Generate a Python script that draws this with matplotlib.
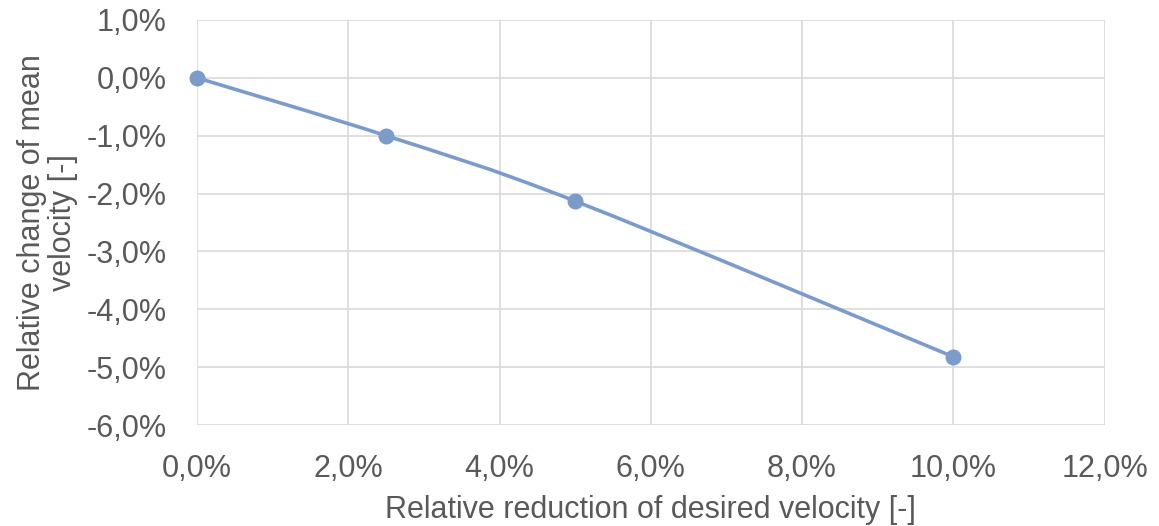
import matplotlib

matplotlib.use("Agg")
import matplotlib.pyplot as plt
from matplotlib.path import Path
from matplotlib.patches import PathPatch
from matplotlib.ticker import FuncFormatter

# Relative reduction of desired velocity vs. relative change of mean velocity (%)
reduction = [0.0, 2.5, 5.0, 10.0]
mean_change = [0.0, -1.0, -2.13, -4.82]

x_ticks = [0, 2, 4, 6, 8, 10, 12]
y_ticks = [1, 0, -1, -2, -3, -4, -5, -6]

LINE = "#7b9bcb"
TEXT = "#595959"
GRID = "#d9d9d9"
FS = 22


def smooth_path(xs, ys, tension=1 / 6):
    # Catmull-Rom style bezier segments, like a spreadsheet "smoothed line"
    verts = [(xs[0], ys[0])]
    codes = [Path.MOVETO]
    n = len(xs)
    for i in range(n - 1):
        x0, y0 = xs[max(i - 1, 0)], ys[max(i - 1, 0)]
        x1, y1 = xs[i], ys[i]
        x2, y2 = xs[i + 1], ys[i + 1]
        x3, y3 = xs[min(i + 2, n - 1)], ys[min(i + 2, n - 1)]
        c1 = (x1 + (x2 - x0) * tension, y1 + (y2 - y0) * tension)
        c2 = (x2 - (x3 - x1) * tension, y2 - (y3 - y1) * tension)
        verts += [c1, c2, (x2, y2)]
        codes += [Path.CURVE4] * 3
    return Path(verts, codes)


plt.rcParams["font.family"] = ["Liberation Sans", "DejaVu Sans"]

fig = plt.figure(figsize=(11.59, 5.26), dpi=100)
ax = fig.add_axes([0.170, 0.192, 0.783, 0.770])

ax.add_patch(PathPatch(smooth_path(reduction, mean_change), facecolor="none",
                       edgecolor=LINE, linewidth=2.6, zorder=3))
ax.plot(reduction, mean_change, linestyle="none", marker="o", markersize=10.5,
        color=LINE, zorder=4, clip_on=False)

ax.set_xlim(0, 12)
ax.set_ylim(-6, 1)
ax.set_xticks(x_ticks)
ax.set_yticks(y_ticks)
pct = FuncFormatter(lambda v, _: f"{v:.1f}%".replace(".", ","))
ax.xaxis.set_major_formatter(pct)
ax.yaxis.set_major_formatter(pct)

ax.grid(True, color=GRID, linewidth=1.2)
ax.set_axisbelow(True)
for side in ["top", "right", "left", "bottom"]:
    ax.spines[side].set_visible(False)
ax.tick_params(length=0, labelsize=FS, labelcolor=TEXT)
ax.tick_params(axis="x", pad=21)
ax.tick_params(axis="y", pad=22)

ax.set_xlabel("Relative reduction of desired velocity [-]", fontsize=FS,
              color=TEXT, labelpad=8)
ax.set_ylabel("Relative change of mean\nvelocity [-]", fontsize=FS,
              color=TEXT, labelpad=6, linespacing=1.05)

fig.savefig("out.png", dpi=100)
plt.close(fig)
